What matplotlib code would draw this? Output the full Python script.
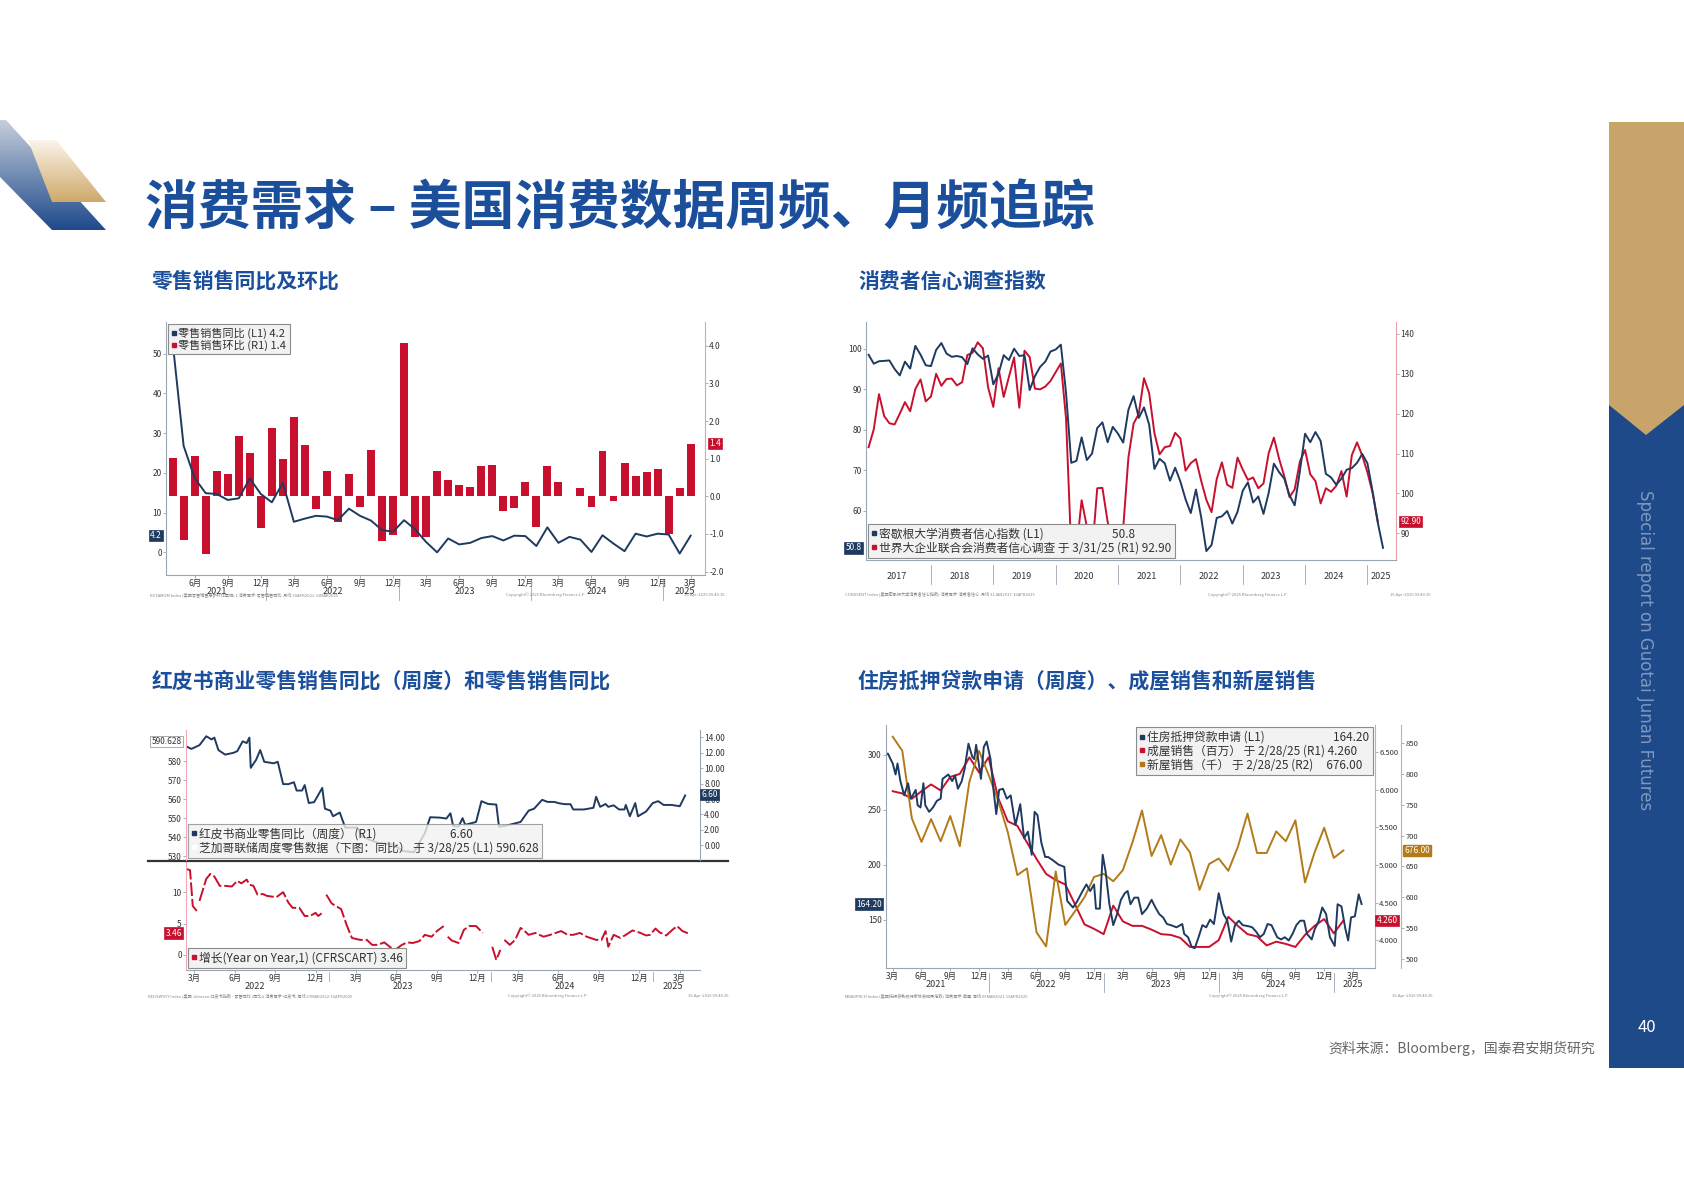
import numpy as np
import matplotlib
matplotlib.use("Agg")
import matplotlib.pyplot as plt
from matplotlib.patches import Polygon, Rectangle
from matplotlib.lines import Line2D
from matplotlib.colors import LinearSegmentedColormap

plt.rcParams['font.family'] = ['Noto Sans CJK SC', 'DejaVu Sans']
plt.rcParams['axes.unicode_minus'] = False

W, H = 1684, 1191
NAVY = '#1f3a60'
RED = '#c8102e'
GOLD = '#b47a17'
TITLE_BLUE = '#1b4f9c'
GRID = '#9aa6b4'

# ---------------- data ----------------
# Chart 1: retail sales, monthly Apr-2021 .. Mar-2025
retail_mom = [1.02, -1.16, 1.07, -1.53, 0.68, 0.59, 1.61, 1.14, -0.84, 1.82, 1.0, 2.1,
              1.36, -0.34, 0.68, -0.69, 0.6, -0.28, 1.24, -1.19, -1.04, 4.07, -1.08, -1.08,
              0.68, 0.44, 0.3, 0.26, 0.81, 0.84, -0.4, -0.32, 0.37, -0.82, 0.8, 0.38,
              0.02, 0.22, -0.28, 1.2, -0.12, 0.89, 0.55, 0.64, 0.72, -1.01, 0.21, 1.4]
retail_yoy = [53, 26.8, 18.7, 14.9, 14.7, 13.2, 13.6, 18.6, 14.7, 12.6, 17.5, 7.7,
              8.5, 9.2, 9.0, 8.1, 11.0, 9.2, 8.0, 5.6, 5.2, 8.1, 5.8, 2.6,
              0.0, 3.5, 2.0, 2.4, 3.6, 4.1, 3.0, 4.2, 4.1, 1.6, 6.3, 2.4,
              3.9, 3.2, 0.1, 4.3, 2.2, 0.3, 4.7, 4.0, 4.7, 4.5, -0.3, 4.2]
c1_tick_idx = list(range(2, 48, 3))
c1_tick_lab = ['6月', '9月', '12月', '3月'] * 4
c1_years = ['2021', '2022', '2023', '2024', '2025']
c1_year_pos = [4, 14.5, 26.5, 38.5, 46.5]

# Chart 2: consumer confidence, monthly from Jan-2017
michigan = [98.5, 96.3, 96.9, 97.0, 97.1, 95.0, 93.4, 96.8, 95.1, 100.7, 98.5, 95.9,
            95.7, 99.7, 101.4, 98.8, 98.0, 98.2, 97.9, 96.2, 100.1, 98.6, 97.5, 98.3,
            91.2, 93.8, 98.4, 97.2, 100.0, 98.2, 98.4, 89.8, 93.2, 95.5, 96.8, 99.3,
            99.8, 101.0, 89.1, 71.8, 72.3, 78.1, 72.5, 74.1, 80.4, 81.8, 76.9, 80.7,
            79.0, 76.8, 84.9, 88.3, 82.9, 85.5, 81.2, 70.3, 72.8, 71.7, 67.4, 70.6,
            67.2, 62.8, 59.4, 65.2, 58.4, 50.0, 51.5, 58.2, 58.6, 59.9, 56.8, 59.7,
            64.9, 67.0, 62.0, 63.5, 59.2, 64.4, 71.6, 69.5, 67.9, 63.8, 61.3, 69.7,
            79.0, 76.9, 79.4, 77.2, 69.1, 68.2, 66.4, 67.9, 70.1, 70.5, 71.8, 74.0,
            71.7, 64.7, 57.0, 50.8]
conference = [111.6, 116.1, 124.9, 119.4, 117.6, 117.3, 120.0, 122.9, 120.6, 126.2, 128.6, 123.1,
              124.3, 130.0, 127.0, 128.7, 128.8, 127.1, 127.9, 134.7, 135.3, 137.9, 136.4, 126.6,
              121.7, 131.4, 124.2, 129.2, 134.1, 121.5, 135.8, 134.2, 126.3, 126.1, 126.8, 128.2,
              130.4, 132.6, 118.8, 85.7, 85.9, 98.3, 91.7, 84.8, 101.3, 101.4, 92.9, 87.1,
              88.9, 91.3, 109.0, 117.5, 120.0, 128.9, 125.1, 115.2, 109.8, 111.6, 111.9, 115.2,
              113.8, 105.7, 107.6, 108.6, 103.2, 98.4, 95.3, 103.6, 107.8, 102.2, 101.4, 109.0,
              106.0, 103.4, 104.0, 101.3, 102.5, 110.1, 114.0, 108.7, 104.3, 99.1, 101.0, 108.0,
              110.9, 104.8, 103.1, 97.5, 101.3, 100.4, 101.9, 105.6, 99.2, 109.6, 112.8, 109.5,
              105.3, 100.1, 92.9]
c2_years = ['2017', '2018', '2019', '2020', '2021', '2022', '2023', '2024', '2025']

# Chart 3: weekly, months since Mar-2022
redbook_m = [-0.6, -0.2, 0.4, 0.9, 1.3, 1.5, 1.8, 2.3, 2.9, 3.2, 3.6, 3.9, 4.1, 4.2, 4.6, 4.9, 5.2, 5.9, 6.2,
             6.6, 7.0, 7.4, 7.6, 8.0, 8.2, 8.5, 8.9, 9.5, 9.7, 10.1, 10.3, 10.8, 11.2, 12.1, 12.4, 13.2,
             13.7, 14.8, 15.5, 16.3, 17.1, 17.5, 18.2, 18.7, 19.0, 19.2, 19.6, 19.9, 20.1, 20.9, 21.3,
             21.8, 22.4, 22.6, 23.1, 24.2, 24.8, 25.2, 25.8, 26.2, 26.7, 27.1, 27.5, 27.9, 28.1, 28.9,
             29.6, 29.8, 30.1, 30.5, 30.7, 31.1, 31.5, 31.9, 32.0, 32.3, 32.7, 32.9, 33.5, 34.0, 34.4,
             34.8, 35.4, 36.0, 36.4]
redbook_v = [588, 586.6, 588.6, 593.3, 591.6, 592.6, 586, 583.6, 584.5, 585.4, 590.6, 589.7, 592.6, 576.6,
             580.9, 586, 579.8, 579, 579.8, 568, 568, 569, 564.6, 564.6, 567.5, 558, 558.5, 566, 555, 554,
             551, 553, 545, 545, 540.5, 538, 537, 536, 532.6, 532, 542, 550.5, 550.3, 549.8, 552.6, 546,
             545.5, 550, 546.5, 548, 559, 557.5, 557.2, 545.5, 546, 548, 554, 555, 559.7, 558.6, 558.6,
             557.8, 557.4, 557.4, 554.6, 554.6, 555.5, 561.3, 556, 557.5, 556, 556.8, 554.6, 554.6, 557,
             551, 558, 551, 553.5, 558, 559, 557, 557, 556.3, 562]
chi_m = [-0.6, -0.3, -0.1, 0.2, 0.3, 0.4, 0.9, 1.2, 1.5, 1.9, 2.3, 2.8, 3.2, 3.5, 3.9, 4.1, 4.4, 4.7, 5.1, 5.4,
         6.1, 6.6, 7.0, 7.3, 7.8, 8.2, 8.6, 9.0, 9.2, 9.5, 9.65, 9.8, 10.2, 10.5, 10.9, 11.3, 11.7, 12.3, 12.8,
         13.2, 13.6, 14.1, 14.5, 14.9, 15.4, 15.8, 16.2, 16.7, 17.1, 17.6, 18.0, 18.5, 18.65, 18.8, 19.1,
         19.6, 20.0, 20.4, 20.9, 21.4, 21.7, 22.1, 22.4, 22.7, 22.85, 23.0, 23.4, 23.8, 24.2, 24.4, 24.8,
         25.3, 25.9, 26.4, 26.8, 27.2, 27.7, 28.1, 28.6, 29.1, 29.8, 30.2, 30.5, 30.7, 31.1, 31.6, 32.0,
         32.5, 33.1, 33.5, 33.8, 34.2, 34.5, 35.0, 35.4, 35.8, 36.2, 36.6]
chi_v = [13.7, 13.5, 7.8, 7.0, np.nan, 8.6, 12.1, 12.9, 12.5, 11.0, 11.0, 10.9, 11.8, 11.4, 12.0, 11.2, 11.0,
         9.6, 9.7, 9.4, 9.2, 10.0, 8.3, 7.5, 7.5, 6.2, 6.2, 6.7, 6.2, 6.7, np.nan, 9.6, 8.2, 7.8, 7.3, 4.8,
         2.7, 2.4, 2.4, 1.6, 1.6, 2.0, 1.3, 0.8, 1.6, 2.0, 1.9, 2.2, 3.2, 2.9, 3.8, 4.6, np.nan, 2.9, 2.3,
         1.9, 4.0, 4.6, 4.6, 3.5, np.nan, 1.3, -0.8, 0.8, np.nan, 2.4, 1.6, 2.4, 4.3, 4.0, 3.2, 3.5, 2.9,
         3.2, 3.5, 3.8, 3.2, 3.2, 3.5, 2.9, 2.4, 2.4, 3.8, 1.3, 3.2, 2.7, 3.2, 3.9, 3.5, 3.1, 3.2, 4.2,
         3.6, 3.1, 3.9, 4.6, 3.8, 3.46]
c3_years = ['2022', '2023', '2024', '2025']

# Chart 4: months since Mar-2021
mba_m = [-0.8, -0.5, 0, 0.3, 0.5, 0.8, 1.2, 1.6, 1.9, 2.4, 2.6, 2.9, 3.2, 3.4, 3.8, 4.2, 4.6, 5.0, 5.2, 5.8, 6.2,
         6.5, 6.8, 7.2, 7.5, 7.9, 8.3, 8.5, 8.7, 9.2, 9.5, 9.8, 10.2, 10.5, 10.8, 11.1, 11.5, 11.9, 12.3, 12.8,
         13.3, 13.7, 14.1, 14.5, 14.8, 15.1, 15.5, 15.9, 16.2, 16.7, 17.3, 17.9, 18.2, 18.5, 18.8, 19.2, 19.8,
         20.2, 20.6, 21.0, 21.2, 21.6, 21.9, 22.2, 22.6, 23.0, 23.4, 23.8, 24.2, 24.5, 24.8, 25.2, 25.6, 26.0,
         26.5, 27.0, 27.4, 27.8, 28.2, 28.6, 29.0, 29.6, 30.2, 30.4, 30.8, 31.2, 31.5, 31.9, 32.3, 32.7, 33.1,
         33.5, 34.0, 34.5, 34.9, 35.3, 35.7, 36.1, 36.5, 37.1, 37.5, 37.9, 38.3, 38.7, 39.1, 39.5, 40.1, 40.5,
         40.9, 41.3, 41.7, 42.1, 42.5, 42.9, 43.2, 43.7, 44.0, 44.4, 44.8, 45.2, 45.6, 46.1, 46.4, 46.8, 47.2,
         47.5, 47.8, 48.2, 48.6, 48.9]
mba_v = [300, 301, 292, 282, 292, 276, 263, 274, 260, 268, 254, 252, 274, 254, 248, 252, 258, 260, 278, 282, 276,
         281, 269, 276, 287, 310, 298, 296, 309, 278, 307, 312, 296, 269, 246, 268, 269, 260, 263, 236,
         255, 224, 230, 209, 248, 245, 220, 207, 207, 204, 200, 198, 167, 164, 161, 166, 176,
         182, 176, 182, 160, 160, 209, 194, 164, 145, 155, 168, 174, 176, 164, 170, 170, 155,
         160, 168, 161, 155, 152, 146, 145, 143, 146, 137, 134, 125, 124, 134, 145, 143, 150,
         146, 174, 155, 149, 130, 145, 149, 145, 144, 143, 139, 134, 137, 146, 145, 134, 132,
         134, 131, 137, 145, 149, 149, 137, 132, 141, 148, 161, 155, 134, 126, 164, 162, 142,
         131, 152, 153, 173, 164.2]
existing = [5.98, 5.95, 5.88, 5.98, 6.07, 5.99, 6.17, 6.21, 6.43, 6.23, 6.43, 5.89, 5.58, 5.52, 5.30, 5.08,
            4.88, 4.80, 4.74, 4.48, 4.21, 4.15, 4.08, 4.46, 4.25, 4.19, 4.19, 4.14, 4.08, 4.07, 4.03, 3.91,
            3.91, 3.91, 4.00, 4.31, 4.19, 4.08, 4.05, 3.93, 3.98, 3.95, 3.91, 4.07, 4.19, 4.28, 4.09, 4.26]
new_home = [861, 838, 728, 690, 727, 691, 732, 683, 788, 838, 799, 757, 706, 636, 647, 543, 520, 642, 555, 577,
            600, 633, 638, 626, 644, 689, 741, 667, 701, 653, 694, 673, 612, 654, 663, 643, 682, 736, 672,
            672, 707, 691, 725, 624, 673, 713, 664, 676]
c4_years = ['2021', '2022', '2023', '2024', '2025']

# ---------------- helpers ----------------
fig = plt.figure(figsize=(W / 100, H / 100), dpi=100)
bg = fig.add_axes([0, 0, 1, 1], zorder=-10)
bg.set_xlim(0, W); bg.set_ylim(H, 0); bg.axis('off')


def add_ax(x0, y0, x1, y1, **kw):
    return fig.add_axes([x0 / W, 1 - y1 / H, (x1 - x0) / W, (y1 - y0) / H], **kw)


def style(ax, left=True, right=False):
    ax.spines['top'].set_visible(False)
    ax.spines['left'].set_visible(left)
    ax.spines['right'].set_visible(right)
    for s in ['left', 'right', 'bottom']:
        ax.spines[s].set_color(GRID)
        ax.spines[s].set_linewidth(0.8)
    ax.tick_params(labelsize=6, length=2, width=0.6, color=GRID, pad=1, labelcolor='#333333')
    ax.patch.set_alpha(0)


def tag(ax, y, text, color, side='left', tc='white', off=3):
    x = 0 if side == 'left' else 1
    ax.annotate(text, xy=(x, y), xycoords=('axes fraction', 'data'),
                xytext=(-off if side == 'left' else off, 0), textcoords='offset points',
                ha='right' if side == 'left' else 'left', va='center', fontsize=6, color=tc,
                bbox=dict(boxstyle='square,pad=0.15', fc=color, ec=color if tc == 'white' else '#888888', lw=0.5),
                annotation_clip=False, zorder=10)


def month_axis(ax, tick_pos, tick_lab, years, year_pos, seps):
    ax.set_xticks(tick_pos)
    ax.set_xticklabels(tick_lab, fontsize=6)
    for y, p in zip(years, year_pos):
        ax.annotate(y, xy=(p, 0), xycoords=('data', 'axes fraction'), xytext=(0, -8.5),
                    textcoords='offset points', ha='center', va='top', fontsize=6.5, color='#333333',
                    annotation_clip=False)
    for s in seps:
        ax.plot([s, s], [-0.02, -0.1], transform=ax.get_xaxis_transform(), color=GRID, lw=0.6, clip_on=False)


def legend_box(ax, items, loc, fs=8.5, alpha=1.0):
    handles = [Line2D([], [], marker='s', ls='', color=c, markersize=3.2) for _, c in items]
    lg = ax.legend(handles, [t for t, _ in items], loc=loc, fontsize=fs, handlelength=0.4, handletextpad=0.2,
                   borderpad=0.3, labelspacing=0.05, frameon=True, fancybox=False, borderaxespad=0.2,
                   framealpha=alpha)
    lg.get_frame().set_facecolor('#f2f2f2'); lg.get_frame().set_edgecolor('#8c8c8c'); lg.get_frame().set_linewidth(0.8)
    for t in lg.get_texts():
        t.set_color('#333333')
    return lg


def footer(x0, x1, y, left_text):
    bg.text(x0, y, left_text, fontsize=3, color='#888888', va='center')
    bg.text(x0 + (x1 - x0) * 0.62, y, 'Copyright© 2025 Bloomberg Finance L.P.', fontsize=3, color='#888888', va='center')
    bg.text(x1, y, '16-Apr-2025 09:40:15', fontsize=3, color='#888888', va='center', ha='right')


def gradient_poly(pts, c_top, c_bot, y0, y1):
    poly = Polygon(pts, closed=True, fc='none', ec='none')
    bg.add_patch(poly)
    cmap = LinearSegmentedColormap.from_list('g', [c_top, c_bot])
    xs = [p[0] for p in pts]
    im = bg.imshow(np.linspace(0, 1, 100).reshape(-1, 1), cmap=cmap, aspect='auto',
                   extent=(min(xs), max(xs), y1, y0), zorder=1)
    im.set_clip_path(poly)


# ---------------- decorations ----------------
gradient_poly([(0, 120), (6, 120), (106, 230), (52, 230), (0, 177)], '#c5ceda', '#1f4a8c', 120, 230)
gradient_poly([(28, 140), (56, 140), (106, 202), (52, 202)], '#fbf4ea', '#cfa96a', 140, 202)
bg.add_patch(Rectangle((1609, 405), 75, 663, fc='#1e4a8a', ec='none'))
bg.add_patch(Polygon([(1609, 122), (1684, 122), (1684, 405), (1646, 435), (1609, 405)], closed=True, fc='#c9a46a', ec='none'))
bg.text(1645, 650, 'Special report on Guotai Junan Futures', rotation=-90, ha='center', va='center',
        fontsize=12, color='#7f98c0', family=['DejaVu Sans'])
bg.text(1647, 1027, '40', ha='center', va='center', fontsize=12, color='white')
bg.text(1595, 1048, '资料来源：Bloomberg，国泰君安期货研究', ha='right', va='center', fontsize=10, color='#666666')

bg.text(145, 208, '消费需求 – 美国消费数据周频、月频追踪', fontsize=38, fontweight='bold', color=TITLE_BLUE, va='center')
for x, y, t in [(152, 281, '零售销售同比及环比'), (858, 281, '消费者信心调查指数'),
                (152, 681, '红皮书商业零售销售同比（周度）和零售销售同比'), (858, 681, '住房抵押贷款申请（周度）、成屋销售和新屋销售')]:
    bg.text(x, y, t, fontsize=15, fontweight='bold', color=TITLE_BLUE, va='center')

# ---------------- chart 1 ----------------
a1 = add_ax(166, 322, 705, 575)
a1r = a1.twinx()
idx = np.arange(len(retail_mom))
a1r.bar(idx, retail_mom, width=0.72, color=RED, zorder=1)
a1.plot(idx, retail_yoy, color=NAVY, lw=1.4, zorder=3)
a1.set_zorder(a1r.get_zorder() + 1); a1.patch.set_visible(False)
a1.set_xlim(-0.6, 48.3)
a1.set_ylim(-5.7, 58); a1.set_yticks(range(0, 51, 10))
a1r.set_ylim(-2.09, 4.63); a1r.set_yticks([-2, -1, 0, 1, 2, 3, 4])
a1r.set_yticklabels(['-2.0', '-1.0', '0.0', '1.0', '2.0', '3.0', '4.0'])
style(a1); style(a1r, left=False, right=True)
a1r.spines['right'].set_color('#e8a0a8')
a1r.spines['bottom'].set_visible(False)
month_axis(a1, c1_tick_idx, c1_tick_lab, c1_years, c1_year_pos, [8.5, 20.5, 32.5, 44.5])
tag(a1, retail_yoy[-1], '4.2', NAVY)
tag(a1r, retail_mom[-1], '1.4', RED, side='right')
legend_box(a1, [('零售销售同比 (L1) 4.2', NAVY), ('零售销售环比 (R1) 1.4', RED)], 'upper left', fs=8)
footer(150, 725, 595, 'RSTAMOM Index (美国零售销售总额环比季调) 1 消费需求-零售销售同比  月线 30APR2021-31MAR2025')

# ---------------- chart 2 ----------------
a2 = add_ax(866, 322, 1396, 560)
a2r = a2.twinx()
a2r.plot(np.arange(len(conference)), conference, color=RED, lw=1.4)
a2.plot(np.arange(len(michigan)), michigan, color=NAVY, lw=1.4)
a2.set_zorder(a2r.get_zorder() + 1); a2.patch.set_visible(False)
a2.set_xlim(-0.5, 101.5)
a2.set_ylim(47.8, 106.6); a2.set_yticks([60, 70, 80, 90, 100])
a2r.set_ylim(83.3, 143); a2r.set_yticks([90, 100, 110, 120, 130, 140])
style(a2); style(a2r, left=False, right=True)
a2r.spines['right'].set_color('#e8a0a8'); a2r.spines['bottom'].set_visible(False)
month_axis(a2, [], [], c2_years, [5.5 + 12 * i for i in range(8)] + [98.5], [12 * i for i in range(1, 9)])
tag(a2, michigan[-1], '50.8', NAVY)
tag(a2r, conference[-1], '92.90', RED, side='right')
legend_box(a2, [('密歇根大学消费者信心指数 (L1)                          50.8', NAVY),
                ('世界大企业联合会消费者信心调查 于 3/31/25 (R1) 92.90', RED)], 'lower left', fs=8.5)
footer(845, 1430, 595, 'CONSSENT Index (美国密歇根大学消费者信心指数) 消费需求-消费者信心  月线 31JAN2017-16APR2025')

# ---------------- chart 3 ----------------
a3 = add_ax(186, 730, 700, 860)
a3r = a3.twinx()
a3.plot(redbook_m, redbook_v, color=NAVY, lw=1.4)
a3.set_xlim(-0.6, 37.5)
a3.set_ylim(527.9, 596.6); a3.set_yticks([530, 540, 550, 560, 570, 580])
a3r.set_ylim(-1.9, 14.94); a3r.set_yticks(range(0, 15, 2))
a3r.set_yticklabels(['%.2f' % v for v in range(0, 15, 2)])
style(a3); style(a3r, left=False, right=True)
a3.spines['bottom'].set_visible(False); a3r.spines['bottom'].set_visible(False)
a3.set_xticks([])
a3.spines['left'].set_color('#f0a8b4')
tag(a3, 590.628, '590.628', '#ffffff', tc='#333333')
tag(a3r, 6.6, '6.60', NAVY, side='right', off=1)
legend_box(a3, [('红皮书商业零售同比（周度） (R1)                            6.60', NAVY),
                ('芝加哥联储周度零售数据（下图：同比） 于 3/28/25 (L1) 590.628', '#ffffff')], 'lower left',
           fs=8.5, alpha=0.8)

a3b = add_ax(186, 862, 700, 970)
a3b.plot(chi_m, chi_v, color=RED, lw=1.4, dashes=(7, 1.5))
a3b.set_xlim(-0.6, 37.5)
a3b.set_ylim(-2.4, 14.8); a3b.set_yticks([0, 5, 10])
style(a3b)
a3b.spines['left'].set_color('#f0a8b4')
month_axis(a3b, list(range(0, 37, 3)), ['3月', '6月', '9月', '12月'] * 3 + ['3月'], c3_years,
           [4.5, 15.5, 27.5, 35.5], [10, 22, 34])
tag(a3b, 3.46, '3.46', RED)
legend_box(a3b, [('增长(Year on Year,1) (CFRSCART) 3.46', RED)], 'lower left', fs=8.5)
bg.plot([148, 728], [861, 861], color='#333333', lw=1.6)
footer(148, 728, 996, 'REDSWYOY Index (美国 Johnson 红皮书指数 - 零售同比 (同比)) 消费需求-红皮书  周线 07MAR2022-16APR2025')

# ---------------- chart 4 ----------------
a4 = add_ax(886, 725, 1375, 968)
a4r = a4.twinx()
a4g = a4.twinx()
a4g.spines['right'].set_position(('outward', 19))
mm = np.arange(len(existing))
a4g.plot(mm, new_home, color=GOLD, lw=1.4)
a4r.plot(mm, existing, color=RED, lw=1.4)
a4.plot(mba_m, mba_v, color=NAVY, lw=1.4)
a4.set_zorder(a4g.get_zorder() + 2); a4.patch.set_visible(False)
a4.set_xlim(-0.7, 50.3)
a4.set_ylim(106, 327); a4.set_yticks([150, 200, 250, 300])
a4r.set_ylim(3.63, 6.86); a4r.set_yticks([4.0, 4.5, 5.0, 5.5, 6.0, 6.5])
a4r.set_yticklabels(['4.000', '4.500', '5.000', '5.500', '6.000', '6.500'])
a4g.set_ylim(485, 880); a4g.set_yticks(range(500, 851, 50))
style(a4); style(a4r, left=False, right=True); style(a4g, left=False, right=True)
a4r.tick_params(labelsize=5.5); a4g.tick_params(labelsize=5.5)
a4r.spines['right'].set_color('#e8a0a8'); a4g.spines['right'].set_color('#d8b070')
a4r.spines['bottom'].set_visible(False); a4g.spines['bottom'].set_visible(False)
month_axis(a4, list(range(0, 49, 3)), ['3月', '6月', '9月', '12月'] * 4 + ['3月'], c4_years,
           [4.5, 16, 28, 40, 48], [10, 22, 34, 46])
tag(a4, 164.2, '164.20', NAVY)
tag(a4r, 4.26, '4.260', RED, side='right', off=1)
a4g.annotate('676.00', xy=(1, 676), xycoords=('axes fraction', 'data'), xytext=(21, 0), textcoords='offset points',
             ha='left', va='center', fontsize=6, color='white',
             bbox=dict(boxstyle='square,pad=0.15', fc=GOLD, ec=GOLD), annotation_clip=False)
legend_box(a4, [('住房抵押贷款申请 (L1)                          164.20', NAVY),
                ('成屋销售（百万） 于 2/28/25 (R1) 4.260', RED),
                ('新屋销售（千） 于 2/28/25 (R2)     676.00', GOLD)], 'upper right', fs=8.5)
footer(845, 1432, 996, 'MBAVPRCH Index (美国抵押贷款银行家协会购买指数) 消费需求-房屋  周线 05MAR2021-16APR2025')

fig.savefig('out.png', dpi=100)
